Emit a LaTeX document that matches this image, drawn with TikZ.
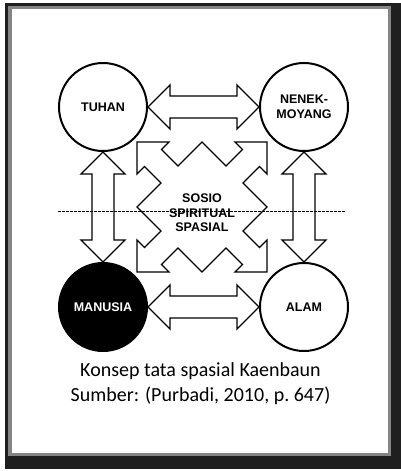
\documentclass[tikz,border=0pt]{standalone}
\usepackage{fontspec}
\setmainfont{Carlito}
\newfontfamily\labelfont{Liberation Sans}
\usetikzlibrary{calc}

\tikzset{
  sphere/.style={circle, draw, line width=2pt, minimum size=88pt, inner sep=0pt,
    align=center, font=\labelfont\bfseries\fontsize{12.5}{14.5}\selectfont},
  bigarrow/.style={draw, line width=1.3pt, fill=white, line join=miter},
  centrebox/.style={draw, line width=1.3pt, fill=white, line join=miter},
}

% fat double arrow from tip #1 to tip #2
\newcommand{\fatarrow}[2]{%
  \draw[bigarrow] (#1) -- ($(#1)!22pt!(#2)!22pt!90:(#2)$) -- ($(#1)!22pt!(#2)!11pt!90:(#2)$)
    -- ($(#2)!22pt!(#1)!11pt!-90:(#1)$) -- ($(#2)!22pt!(#1)!22pt!-90:(#1)$) -- (#2)
    -- ($(#2)!22pt!(#1)!22pt!90:(#1)$) -- ($(#2)!22pt!(#1)!11pt!90:(#1)$)
    -- ($(#1)!22pt!(#2)!11pt!-90:(#2)$) -- ($(#1)!22pt!(#2)!22pt!-90:(#2)$) -- cycle;}

\begin{document}
\begin{tikzpicture}[x=1pt, y=-1pt]
\useasboundingbox (0,0) rectangle (401,471);
% frame
\fill[black!88] (5,3) rectangle (401,469);
\fill[black!48] (8,6) rectangle (391,456);
\fill[white] (12,9) rectangle (388,453);

\node[sphere] (tuhan) at (103,107) {TUHAN};
\node[sphere] (nenek) at (304,107) {NENEK-\\MOYANG};
\node[sphere, fill=black, text=white] (manusia) at (103,307) {MANUSIA};
\node[sphere] (alam) at (304,307) {ALAM};

\fatarrow{tuhan.east}{nenek.west}
\fatarrow{manusia.east}{alam.west}
\fatarrow{tuhan.south}{manusia.north}
\fatarrow{nenek.south}{alam.north}

% sosio spiritual spasial
\begin{scope}[shift={(202,207)}]
\draw[centrebox] (0,65) -- (24,41) -- (40.5,57.5) -- (33,65) -- (65,65) -- (65,33) -- (57.5,40.5) -- (41,24)
  -- (65,0) -- (41,-24) -- (57.5,-40.5) -- (65,-33) -- (65,-65) -- (33,-65) -- (40.5,-57.5) -- (24,-41)
  -- (0,-65) -- (-24,-41) -- (-40.5,-57.5) -- (-33,-65) -- (-65,-65) -- (-65,-33) -- (-57.5,-40.5) -- (-41,-24)
  -- (-65,0) -- (-41,24) -- (-57.5,40.5) -- (-65,33) -- (-65,65) -- (-33,65) -- (-40.5,57.5) -- (-24,41) -- cycle;
\node[align=center, font=\labelfont\bfseries\fontsize{12.5}{14.5}\selectfont] (sosio) at (0,6) {SOSIO\\SPIRITUAL\\SPASIAL};
\end{scope}

\coordinate (dashl) at (58,211);
\coordinate (dashr) at (345,211);
\draw[line width=1pt, dash pattern=on 2.5pt off 1.5pt] (dashl) -- (dashr);

\node[align=center, font=\fontsize{20}{25}\selectfont, inner sep=0pt] (caption) at (200.5,384)
  {Konsep tata spasial Kaenbaun\\Sumber: (Purbadi, 2010, p.~647)};
\end{tikzpicture}
\end{document}
